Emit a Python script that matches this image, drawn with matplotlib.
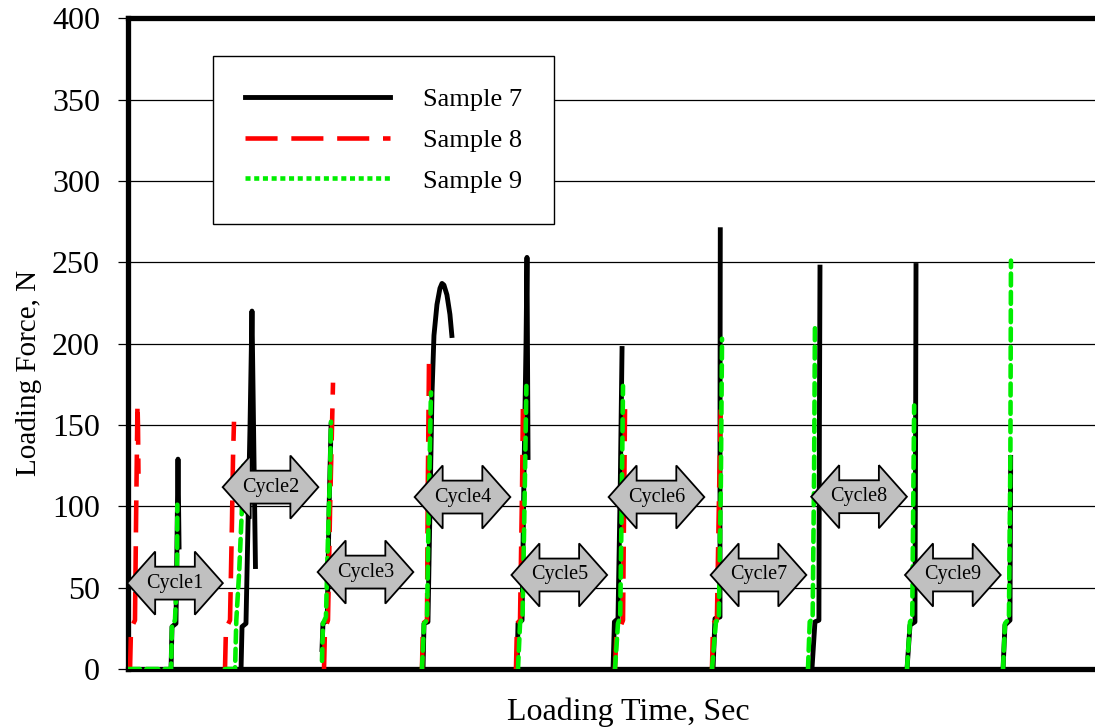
import numpy as np
import matplotlib
matplotlib.use("Agg")
import matplotlib.pyplot as plt
from matplotlib.patches import Polygon
from matplotlib.lines import Line2D

nan = np.nan

# Loading curves, one block per cycle, cycles separated by NaN.
s7_time = [4.45, 4.55, 4.96, 5.07, 5.17, 5.28, nan,
           11.69, 11.79, 12.2, 12.31, 12.62, 12.82, 12.98, 13.18, nan,
           20.06, 20.16, 20.6, 20.8, 21.0, nan,
           30.51, 30.61, 31.02, 31.23, 31.44, 31.64, 31.95, 32.26, 32.47, 32.67, 32.98, 33.29, 33.49, nan,
           40.23, 40.33, 40.75, 40.95, 41.16, 41.26, 41.37, nan,
           50.16, 50.3, 50.67, 50.9, 51.09, nan,
           60.5, 60.7, 61.22, 61.22, 61.25, nan,
           70.73, 71.04, 71.45, 71.5, 71.56, nan,
           80.56, 80.87, 81.38, 81.45, 81.49, nan,
           90.49, 90.69, 91.21, 91.28]
s7_force = [0, 26, 28, 80, 129, 75, nan,
            0, 26, 28, 60, 150, 220, 150, 63, nan,
            12, 28, 30, 100, 150, nan,
            0, 28, 29, 100, 170, 205, 224, 234, 237, 236, 230, 218, 205, nan,
            0, 28, 30, 120, 200, 253, 130, nan,
            0, 29, 31, 110, 197, nan,
            0, 31, 32, 150, 270, nan,
            0, 29, 30, 150, 247, nan,
            0, 27, 29, 150, 248, nan,
            0, 27, 30, 130]

s8_time = [0.21, 0.31, 0.72, 0.85, 0.98, 1.03, 1.08, nan,
           10.03, 10.13, 10.55, 10.75, 10.86, 10.96, nan,
           20.27, 20.37, 20.68, 20.9, 21.1, 21.2, nan,
           30.4, 30.5, 30.92, 31.0, 31.13, nan,
           40.12, 40.23, 40.54, 40.75, 40.85, nan,
           50.36, 50.5, 51.19, 51.3, 51.4, nan,
           60.39, 60.5, 60.9, 61.1, 61.32]
s8_force = [0, 25, 30, 100, 163, 150, 120, nan,
            0, 25, 30, 90, 130, 152, nan,
            0, 25, 30, 100, 150, 176, nan,
            0, 28, 30, 110, 191, nan,
            0, 28, 30, 110, 167, nan,
            0, 20, 30, 100, 161, nan,
            0, 28, 30, 100, 167]

s9_time = [0, 4.34, 4.45, 4.55, 4.86, 5.07, 5.1, nan,
           10.03, 11.07, 11.2, 11.5, 11.79, 11.95, nan,
           20.06, 20.16, 20.47, 20.68, 20.89, 20.99, nan,
           30.4, 30.61, 30.92, 31.1, 31.33, nan,
           40.33, 40.54, 40.8, 41.0, 41.2, nan,
           50.36, 50.67, 50.9, 51.05, 51.19, nan,
           60.39, 60.8, 61.1, 61.3, 61.43, nan,
           70.32, 70.5, 70.8, 70.95, 71.04, nan,
           80.56, 80.87, 81.1, 81.2, 81.3, nan,
           90.49, 90.69, 91.1, 91.25, 91.31]
s9_force = [0, 0, 0, 27, 30, 60, 101, nan,
            0, 0, 30, 60, 100, 128, nan,
            5, 28, 32, 80, 120, 152, nan,
            0, 28, 30, 100, 170, nan,
            0, 28, 32, 100, 174, nan,
            0, 28, 32, 100, 174, nan,
            0, 29, 31, 110, 203, nan,
            0, 29, 31, 120, 212, nan,
            0, 29, 31, 100, 162, nan,
            0, 28, 31, 130, 251]

# Cycle markers (double arrows)
cycle_names = ["Cycle1", "Cycle2", "Cycle3", "Cycle4", "Cycle5",
               "Cycle6", "Cycle7", "Cycle8", "Cycle9"]
arrow_x = [4.86, 14.74, 24.56, 34.59, 44.6, 54.65, 65.2, 75.6, 85.3]
arrow_y = [52.8, 111.8, 59.6, 105.7, 57.8, 105.7, 57.8, 105.9, 57.8]

plt.rcParams["font.family"] = ["Liberation Serif", "DejaVu Serif"]

fig = plt.figure(figsize=(10.95, 7.28), dpi=100)
ax = fig.add_axes([0.1169, 0.081, 0.8831, 0.894])

ax.plot(s7_time, s7_force, color="black", lw=3.5, zorder=3)
ax.plot(s8_time, s8_force, color="red", lw=3.3, dashes=(7, 3), zorder=4)
ax.plot(s9_time, s9_force, color="#00ee00", lw=3.3, dashes=(2.6, 1.4),
        dash_capstyle="round", zorder=5)


# double headed arrow with a label in the middle
def cycle_arrow(cx, cy, name):
    hw, hl, sh, hh = 4.95, 2.9, 10.1, 19.4
    pts = [(-hw, 0), (-hw + hl, hh), (-hw + hl, sh), (hw - hl, sh), (hw - hl, hh),
           (hw, 0), (hw - hl, -hh), (hw - hl, -sh), (-hw + hl, -sh), (-hw + hl, -hh)]
    pts = [(cx + px, cy + py) for px, py in pts]
    ax.add_patch(Polygon(pts, closed=True, facecolor="#c0c0c0", edgecolor="black",
                         lw=1.3, zorder=6))
    ax.text(cx, cy, name, ha="center", va="center", fontsize=14.5, zorder=7)


for n, x, y in zip(cycle_names, arrow_x, arrow_y):
    cycle_arrow(x, y, n)

ax.set_xlim(0, 100)
ax.set_ylim(0, 400)
ax.set_yticks(np.arange(0, 401, 50))
ax.set_xticks([])
ax.grid(axis="y", color="black", lw=0.9)
ax.set_axisbelow(True)
ax.tick_params(axis="y", direction="out", length=7.2, width=0.9, pad=13, labelsize=23)

for side in ["left", "top", "bottom"]:
    ax.spines[side].set_linewidth(3.8)
ax.spines["right"].set_visible(False)

ax.set_ylabel("Loading Force, N", fontsize=21)
ax.yaxis.set_label_coords(-0.089, 0.455)
ax.set_xlabel("Loading Time, Sec", fontsize=23)
ax.xaxis.set_label_coords(0.517, -0.043)

handles = [Line2D([], [], color="black", lw=3.5),
           Line2D([], [], color="red", lw=3.3, dashes=(7, 3)),
           Line2D([], [], color="#00ee00", lw=3.3, dashes=(1.1, 0.8))]
leg = ax.legend(handles, ["Sample 7", "Sample 8", "Sample 9"], loc="upper left",
                bbox_to_anchor=(0.0879, 0.9414), borderaxespad=0, fontsize=19,
                handlelength=5.5, handletextpad=1.25, labelspacing=0.65,
                borderpad=1.2, fancybox=False, framealpha=1, edgecolor="black")
leg.get_frame().set_linewidth(1.0)
leg.set_zorder(8)

fig.savefig("out.png", dpi=100)
